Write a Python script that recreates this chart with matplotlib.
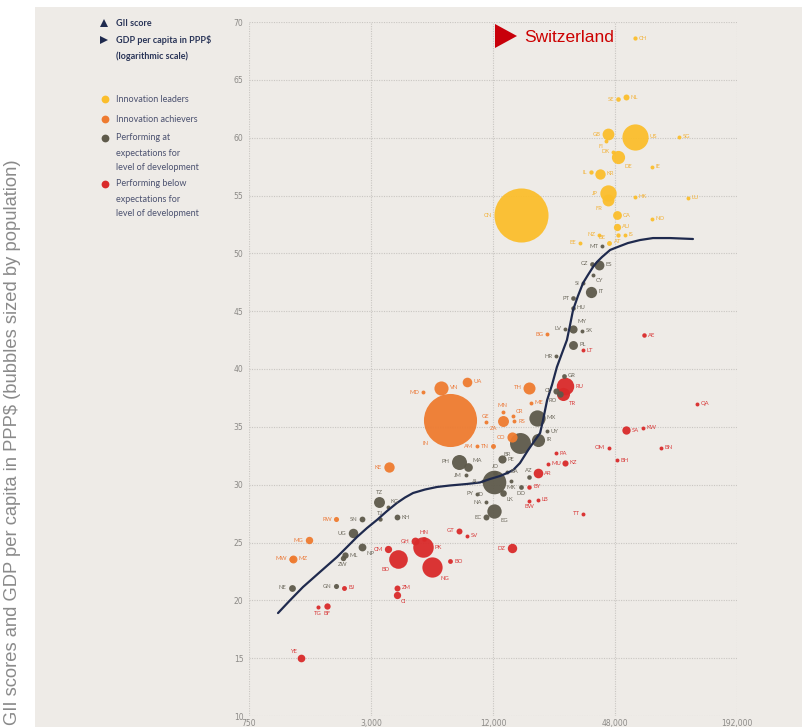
import numpy as np
import matplotlib.pyplot as plt
from matplotlib.patches import Rectangle, Polygon

# ---- data: GDP per capita (PPP$), GII score, population (M) ----
CODES = [
    # innovation leaders
    "CH", "SE", "NL", "GB", "FI", "US", "SG", "DK", "DE", "IE", "IL", "KR", "JP",
    "FR", "HK", "LU", "CN", "CA", "NO", "AU", "NZ", "AT", "IS", "BE", "EE",
    # performing at expectations
    "MT", "CZ", "ES", "CY", "SI", "IT", "PT", "HU", "LV", "MY", "SK", "PL", "HR",
    "GR", "CL", "RO", "MX", "UY", "BR", "IR", "PE", "PH", "MA", "JM", "JO", "BA",
    "ID", "AL", "AZ", "MK", "DO", "PY", "LK", "NA", "EG", "EC", "TZ", "KG", "TJ",
    "KH", "SN", "UG", "ML", "NP", "ZW", "NE", "GN",
    # innovation achievers
    "BG", "TH", "UA", "VN", "MD", "IN", "ME", "MN", "CR", "GE", "ZA", "RS", "CO",
    "AM", "TN", "KE", "RW", "MG", "MW", "MZ",
    # performing below expectations
    "LT", "AE", "RU", "TR", "QA", "SA", "KW", "BN", "OM", "BH", "PA", "MU", "KZ",
    "AR", "BY", "LB", "BW", "TT", "GT", "SV", "HN", "GH", "PK", "CM", "DZ", "BD",
    "NG", "BO", "BJ", "ZM", "CI", "TG", "BF", "YE",
]
GROUPS = ["L"] * 25 + ["E"] * 47 + ["A"] * 20 + ["B"] * 34

GDP = [
    60200, 49700, 54400, 44300, 43300, 60200, 99300, 46900, 49700, 73100, 36500, 40500, 44300,
    44300, 60200, 110000, 16500, 49100, 73100, 49100, 40000, 49700, 53800, 44800, 32300,
    41400, 37000, 40000, 37400, 33400, 36500, 29800, 29800, 27200, 29800, 33000, 29800, 24600,
    26900, 24600, 25700, 19800, 22200, 16300, 20000, 13300, 8160, 9030, 8800, 12300, 14070,
    12140, 10700, 18100, 14700, 16500, 10000, 13400, 11080, 12070, 11080, 3290, 3640, 3320,
    4030, 2710, 2440, 2230, 2710, 2180, 1220, 2016,
    22200, 18100, 8930, 6650, 5420, 7360, 18500, 13400, 15100, 11080, 13400, 15300, 14900,
    10000, 12000, 3680, 2016, 1480, 1220, 1240,
    33400, 66800, 27200, 26600, 122000, 54400, 65900, 81000, 44800, 49100, 24600, 22400, 27200,
    20000, 18100, 20000, 18100, 33400, 8160, 8930, 5480, 4950, 5420, 3640, 14900, 4080,
    6000, 7360, 2210, 4030, 4030, 1640, 1820, 1355,
]
GII = [
    68.6, 63.3, 63.5, 60.3, 59.7, 60.1, 60.1, 58.8, 58.3, 57.5, 57.0, 56.9, 55.2,
    54.6, 54.9, 54.8, 53.3, 53.3, 53.0, 52.3, 51.6, 51.6, 51.6, 50.9, 50.9,
    50.6, 49.1, 49.0, 48.1, 47.4, 46.7, 46.1, 45.3, 43.5, 43.5, 43.3, 42.1, 41.1,
    39.4, 38.1, 37.8, 35.8, 34.6, 33.6, 33.9, 32.2, 32.0, 31.5, 30.8, 31.0, 31.1,
    30.2, 30.3, 30.7, 30.3, 29.8, 29.2, 29.3, 28.5, 27.7, 27.2, 28.5, 28.1, 27.0,
    27.2, 27.0, 25.8, 23.9, 24.6, 23.7, 21.1, 21.2,
    43.0, 38.4, 38.9, 38.4, 38.0, 35.6, 37.1, 36.3, 35.9, 35.4, 35.5, 35.5, 34.1,
    33.3, 33.3, 31.5, 27.0, 25.2, 23.6, 23.6,
    41.6, 42.9, 38.5, 37.8, 37.0, 34.7, 34.9, 33.2, 33.2, 32.1, 32.7, 31.8, 31.9,
    31.0, 29.8, 28.7, 28.6, 27.5, 26.0, 25.6, 25.3, 25.1, 24.6, 24.4, 24.5, 23.6,
    22.9, 23.4, 21.1, 21.1, 20.5, 19.4, 19.5, 15.0,
]
POP = [
    8.5, 10, 17, 66, 5.5, 327, 5.6, 5.8, 83, 4.8, 8.9, 51, 127,
    67, 7.4, 0.6, 1390, 37, 5.3, 25, 4.9, 8.8, 0.34, 11.4, 1.3,
    0.47, 10.6, 46, 1.2, 2.1, 60, 10.3, 9.8, 1.9, 32, 5.4, 38, 4.1,
    10.7, 18, 19.5, 126, 3.5, 209, 82, 32, 107, 36, 2.9, 10, 3.5,
    265, 2.9, 9.9, 2.1, 10.6, 6.9, 21, 2.5, 98, 17, 57, 6.3, 9.1,
    16, 16, 43, 19, 29, 14, 22, 12.4,
    7, 69, 44, 95, 3.5, 1340, 0.6, 3.1, 5, 3.9, 57, 7, 49,
    3, 11.6, 51, 12.3, 26, 18, 30,
    2.8, 9.6, 145, 81, 2.7, 33, 4.1, 0.43, 4.8, 1.6, 4.2, 1.3, 18,
    44, 9.5, 6, 2.3, 1.4, 17, 6.4, 9.4, 29, 200, 25, 42, 165,
    195, 11, 11.5, 17, 25, 7.9, 19, 28,
]

# where each code label sits relative to its bubble
LABEL_SIDE = [
    "r", "l", "r", "l", "bl", "r", "r", "l", "br", "r", "l", "r", "l",
    "bl", "r", "r", "l", "r", "r", "r", "l", "b", "r", "tl", "l",
    "l", "l", "r", "br", "l", "r", "l", "r", "l", "tr", "r", "r", "l",
    "r", "l", "bl", "r", "r", "bl", "r", "r", "l", "tr", "l", "t", "r",
    "bl", "l", "t", "b", "b", "l", "br", "l", "br", "l", "t", "tr", "t",
    "r", "l", "l", "r", "br", "b", "l", "l",
    "l", "l", "r", "r", "l", "bl", "r", "t", "tr", "t", "bl", "r", "l",
    "l", "l", "l", "l", "l", "l", "r",
    "r", "r", "r", "br", "r", "r", "r", "r", "l", "r", "r", "r", "r",
    "r", "r", "r", "b", "l", "l", "r", "t", "l", "r", "l", "l", "bl",
    "br", "r", "r", "r", "br", "b", "b", "tl",
]

# fitted trend curve
CURVE_GDP = [1043, 1195, 1385, 1680, 2040, 2284, 2560, 2866, 3210, 3599, 4030,
             4415, 4840, 5541, 6350, 7360, 8930, 10350, 11600, 13000, 14070,
             15100, 16300, 17900, 18900, 20500, 21200, 22200, 23460, 24800,
             26300, 27800, 28800, 29800, 31500, 33400, 35300, 37400, 39100,
             41400, 45400, 48000, 55600, 63800, 73900, 89700, 116400]
CURVE_GII = [18.9, 20.0, 21.15, 22.45, 23.75, 24.61, 25.48, 26.25, 26.95, 27.72, 28.42,
             28.89, 29.28, 29.58, 29.80, 29.93, 30.06, 30.19, 30.49, 30.75, 31.0,
             31.27, 31.87, 33.0, 33.6, 34.47, 35.6, 37.32, 38.62, 40.17,
             41.38, 42.51, 43.8, 45.1, 46.31, 47.44, 48.13, 48.82, 49.25,
             49.68, 50.29, 50.46, 50.89, 51.15, 51.32, 51.32, 51.24]

X_TICKS = [750, 3000, 12000, 48000, 192000]
X_TICK_LABELS = ["750", "3,000", "12,000", "48,000", "192,000"]
Y_TICKS = list(range(10, 75, 5))

COLORS = {"L": "#FBBE2C", "A": "#EE7B30", "E": "#5E5A4B", "B": "#D92A2A"}
LABEL_COLORS = {"L": "#F2B23A", "A": "#EC7A3A", "E": "#6E6A5E", "B": "#D83A3A"}
LEGEND = [("L", ["Innovation leaders"]),
          ("A", ["Innovation achievers"]),
          ("E", ["Performing at", "expectations for", "level of development"]),
          ("B", ["Performing below", "expectations for", "level of development"])]

BG = "#EEEBE7"
NAVY = "#1F2A4E"
GRID = "#C9C6C2"
TICK = "#8C8A87"

W, H = 802, 727
fig = plt.figure(figsize=(W / 100, H / 100), dpi=100)
fig.patch.set_facecolor("white")

# overlay in pixel coordinates for the panel, legend and annotation
ov = fig.add_axes([0, 0, 1, 1], zorder=0)
ov.set_xlim(0, W)
ov.set_ylim(H, 0)
ov.axis("off")
ov.add_patch(Rectangle((35, 7), W - 35, H - 7, color=BG, lw=0))

ax = fig.add_axes([249 / W, 1 - 716 / H, 488 / W, 694 / H], zorder=2)
ax.set_facecolor("none")
ax.set_xscale("log")
ax.set_xlim(750, 192000)
ax.set_ylim(10, 70)
ax.set_xticks(X_TICKS)
ax.set_xticklabels(X_TICK_LABELS)
ax.xaxis.set_minor_locator(plt.NullLocator())
ax.set_yticks(Y_TICKS)
ax.tick_params(length=0, labelsize=5.5, labelcolor=TICK, pad=4)
ax.tick_params(axis="x", pad=2.5)
for s in ax.spines.values():
    s.set_visible(False)
ax.grid(True, ls=(0, (1, 1.2)), color=GRID, lw=0.8)
ax.set_axisbelow(True)

gdp = np.array(GDP, float)
gii = np.array(GII, float)
pop = np.array(POP, float)
sizes = np.maximum(1.09 * pop, 8.0)
order = np.argsort(-pop)
for i in order:
    g = GROUPS[i]
    ax.scatter(gdp[i], gii[i], s=sizes[i], color=COLORS[g], lw=0, alpha=0.95,
               zorder=3, clip_on=False)

OFFS = {"r": (1, 0, "left", "center"), "l": (-1, 0, "right", "center"),
        "t": (0, 1, "center", "bottom"), "b": (0, -1, "center", "top"),
        "tr": (0.75, 0.75, "left", "bottom"), "tl": (-0.75, 0.75, "right", "bottom"),
        "br": (0.75, -0.75, "left", "top"), "bl": (-0.75, -0.75, "right", "top")}
for i, code in enumerate(CODES):
    dx, dy, ha, va = OFFS[LABEL_SIDE[i]]
    r = np.sqrt(sizes[i]) / 2 + 1.2
    ax.annotate(code, (gdp[i], gii[i]), xytext=(dx * r, dy * r),
                textcoords="offset points", ha=ha, va=va, fontsize=4.2,
                color=LABEL_COLORS[GROUPS[i]], zorder=6, family="Lato")

ax.plot(CURVE_GDP, CURVE_GII, color=NAVY, lw=1.6, zorder=5,
        solid_capstyle="round", solid_joinstyle="round")

# legend
ov.plot([104], [23], marker="^", ms=6, color=NAVY, mew=0)
ov.plot([104], [40], marker=">", ms=6, color=NAVY, mew=0)
ov.text(116, 23, "GII score", fontsize=6.5, color="#2A3558", fontweight="bold",
        va="center", family="Lato")
ov.text(116, 40, "GDP per capita in PPP$", fontsize=6.5, color="#2A3558",
        fontweight="bold", va="center", family="Lato")
ov.text(116, 56, "(logarithmic scale)", fontsize=6.5, color="#2A3558",
        fontweight="bold", va="center", family="Lato")
y0 = [99, 119, 138, 184]
for (g, lines), yy in zip(LEGEND, y0):
    ov.plot([105], [yy], marker="o", ms=5.6, color=COLORS[g], mew=0)
    for k, ln in enumerate(lines):
        ov.text(116, yy + k * 15, ln, fontsize=6.5, color="#4C5270",
                va="center", family="Lato")

# Switzerland callout
ov.add_patch(Polygon([(495, 24), (517, 36), (495, 48)], closed=True,
                     color="#C8000A", lw=0, zorder=3))
ov.text(524, 37, "Switzerland", fontsize=12.5, color="#CC0000", va="center",
        family="Liberation Sans", zorder=3)

# rotated side label
ov.text(13, 442, "GII scores and GDP per capita in PPP$ (bubbles sized by population)",
        rotation=90, fontsize=13.2, color="#8A8A8A", ha="center", va="center",
        family="Liberation Sans")

fig.savefig("out.png", dpi=100)
